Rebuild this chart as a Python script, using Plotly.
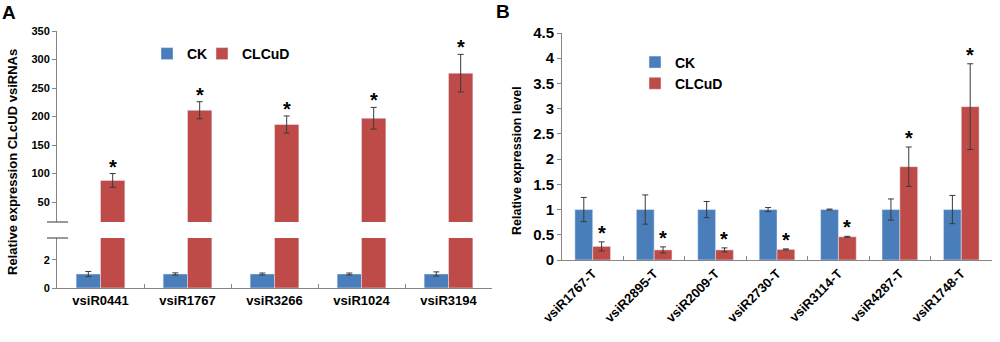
import plotly.graph_objects as go

# ---------------- data ----------------
cats_a = ["vsiR0441", "vsiR1767", "vsiR3266", "vsiR1024", "vsiR3194"]
ck_a = [1.0, 1.0, 1.0, 1.0, 1.0]
ck_a_err = [0.18, 0.08, 0.07, 0.07, 0.15]
cl_a = [88, 211, 186, 197, 276]
cl_a_err = [12, 15, 15, 19, 33]

cats_b = ["vsiR1767-T", "vsiR2895-T", "vsiR2009-T", "vsiR2730-T",
          "vsiR3114-T", "vsiR4287-T", "vsiR1748-T"]
ck_b = [1.0, 1.0, 1.0, 1.0, 1.0, 1.0, 1.0]
ck_b_err = [0.24, 0.29, 0.16, 0.04, 0.01, 0.21, 0.28]
cl_b = [0.27, 0.20, 0.20, 0.21, 0.46, 1.85, 3.04]
cl_b_err = [0.09, 0.06, 0.04, 0.01, 0.01, 0.39, 0.85]

# ---------------- style ----------------
BLUE = "#4A7EBB"
RED = "#BE4B48"
AX = "#868686"
ERR = "#3A3A3A"
FONT = "Arial, Liberation Sans, sans-serif"

W = 1000
H = 342


def px(xp):
    return xp / W


def py(yp):
    return 1 - yp / H


dom_a = [px(57), px(492)]
dom_a_low = [py(288), py(238)]
dom_a_up = [py(222), py(31)]
dom_b = [px(562), px(992)]
dom_b_y = [py(260), py(33)]

wa = 0.28
wb = 0.29

fig = go.Figure()


def err(arr):
    return dict(type="data", array=arr, color=ERR, thickness=1, width=3)


# Panel A lower
fig.add_trace(go.Bar(x=cats_a, y=ck_a, error_y=err(ck_a_err), width=wa, offset=-wa,
                     marker_color=BLUE, name="CK", legend="legend",
                     xaxis="x", yaxis="y"))
fig.add_trace(go.Bar(x=cats_a, y=cl_a, width=wa, offset=0,
                     marker_color=RED, name="CLCuD", legend="legend3",
                     xaxis="x", yaxis="y"))
# Panel A upper
fig.add_trace(go.Bar(x=cats_a, y=cl_a, error_y=err(cl_a_err), width=wa, offset=0,
                     marker_color=RED, name="CLCuD", showlegend=False,
                     xaxis="x2", yaxis="y2"))
# Panel B
fig.add_trace(go.Bar(x=cats_b, y=ck_b, error_y=err(ck_b_err), width=wb, offset=-wb,
                     marker_color=BLUE, name="CK", legend="legend2",
                     xaxis="x3", yaxis="y3"))
fig.add_trace(go.Bar(x=cats_b, y=cl_b, error_y=err(cl_b_err), width=wb, offset=0,
                     marker_color=RED, name="CLCuD", legend="legend2",
                     xaxis="x3", yaxis="y3"))

# star annotations
ann = []
cat_px_a = (dom_a[1] - dom_a[0]) * W / len(cats_a)
for c, v, e in zip(cats_a, cl_a, cl_a_err):
    ann.append(dict(x=c, y=v + e, xref="x2", yref="y2", text="*", showarrow=False,
                    xshift=wa / 2 * cat_px_a, yanchor="bottom", yshift=-6,
                    font=dict(family=FONT, size=20, color="black", weight="bold")))
cat_px_b = (dom_b[1] - dom_b[0]) * W / len(cats_b)
for c, v, e in zip(cats_b, cl_b, cl_b_err):
    ann.append(dict(x=c, y=v + e, xref="x3", yref="y3", text="*", showarrow=False,
                    xshift=wb / 2 * cat_px_b, yanchor="bottom", yshift=-4,
                    font=dict(family=FONT, size=20, color="black", weight="bold")))

# panel letters and axis titles
ann.append(dict(x=px(9), y=py(13), xref="paper", yref="paper", text="A", showarrow=False,
                xanchor="center", yanchor="middle",
                font=dict(family=FONT, size=19, color="black", weight="bold")))
ann.append(dict(x=px(503), y=py(11), xref="paper", yref="paper", text="B", showarrow=False,
                xanchor="center", yanchor="middle",
                font=dict(family=FONT, size=19, color="black", weight="bold")))
ann.append(dict(x=px(13), y=py(162), xref="paper", yref="paper",
                text="Relative expression CLcUD vsiRNAs", showarrow=False, textangle=-90,
                xanchor="center", yanchor="middle",
                font=dict(family=FONT, size=13, color="black", weight="bold")))
ann.append(dict(x=px(517), y=py(161), xref="paper", yref="paper",
                text="Relative expression level", showarrow=False, textangle=-90,
                xanchor="center", yanchor="middle",
                font=dict(family=FONT, size=12.5, color="black", weight="bold")))

# axis break marks
shapes = []
for yp in [dom_a_up[0], dom_a_low[1]]:
    shapes.append(dict(type="line", xref="paper", yref="paper",
                       x0=px(47), x1=px(68), y0=yp, y1=yp,
                       line=dict(color="#555555", width=1.2)))

tick_a = dict(family=FONT, size=11, color="black", weight="bold")
tick_b = dict(family=FONT, size=15, color="black", weight="bold")
leg_font = dict(family=FONT, size=14, color="black", weight="bold")

fig.update_layout(
    width=W, height=H,
    margin=dict(l=0, r=0, t=0, b=0, autoexpand=False),
    paper_bgcolor="white", plot_bgcolor="white",
    barmode="overlay",
    showlegend=True,
    xaxis=dict(domain=dom_a, anchor="y", type="category", showline=True, linecolor=AX,
               ticks="inside", tickson="boundaries", tickcolor=AX, ticklen=4,
               tickfont=dict(family=FONT, size=13, color="black", weight="bold"),
               showgrid=False, zeroline=False, range=[-0.5, 4.5], automargin=False),
    yaxis=dict(domain=dom_a_low, anchor="x", range=[0, 3.57], tickvals=[0, 2],
               showline=True, linecolor=AX, ticks="outside", tickcolor=AX, ticklen=4,
               tickfont=tick_a, showgrid=False, zeroline=False, automargin=False),
    xaxis2=dict(domain=dom_a, anchor="y2", type="category", visible=False,
                matches="x", range=[-0.5, 4.5], automargin=False),
    yaxis2=dict(domain=dom_a_up, anchor="x2", range=[15, 350], tick0=50, dtick=50,
                showline=True, linecolor=AX, ticks="outside", tickcolor=AX, ticklen=4,
                tickfont=tick_a, showgrid=False, zeroline=False, automargin=False),
    xaxis3=dict(domain=dom_b, anchor="y3", type="category", showline=True, linecolor=AX,
                ticks="inside", tickson="boundaries", tickcolor=AX, ticklen=4,
                tickangle=-45,
                tickfont=dict(family=FONT, size=13, color="black", weight="bold"),
                showgrid=False, zeroline=False, range=[-0.5, 6.5], automargin=False),
    yaxis3=dict(domain=dom_b_y, anchor="x3", range=[0, 4.5], dtick=0.5,
                showline=True, linecolor=AX, ticks="outside", tickcolor=AX, ticklen=4,
                tickfont=tick_b, showgrid=False, zeroline=False, automargin=False),
    legend=dict(x=px(147), y=py(54), xanchor="left", yanchor="middle",
                orientation="h", bgcolor="rgba(0,0,0,0)", itemwidth=30, font=leg_font),
    legend3=dict(x=px(202), y=py(54), xanchor="left", yanchor="middle",
                 orientation="h", bgcolor="rgba(0,0,0,0)", itemwidth=30, font=leg_font),
    legend2=dict(x=px(635), y=py(73), xanchor="left", yanchor="middle",
                 orientation="v", bgcolor="rgba(0,0,0,0)", itemwidth=30, tracegroupgap=0,
                 font=leg_font),
    annotations=ann,
    shapes=shapes,
)

# remove the browser's default 8px page margin so the figure fills the window exactly
fig.write_html("out.html", config={"displayModeBar": False},
               post_script="document.body.style.margin='0px';")
